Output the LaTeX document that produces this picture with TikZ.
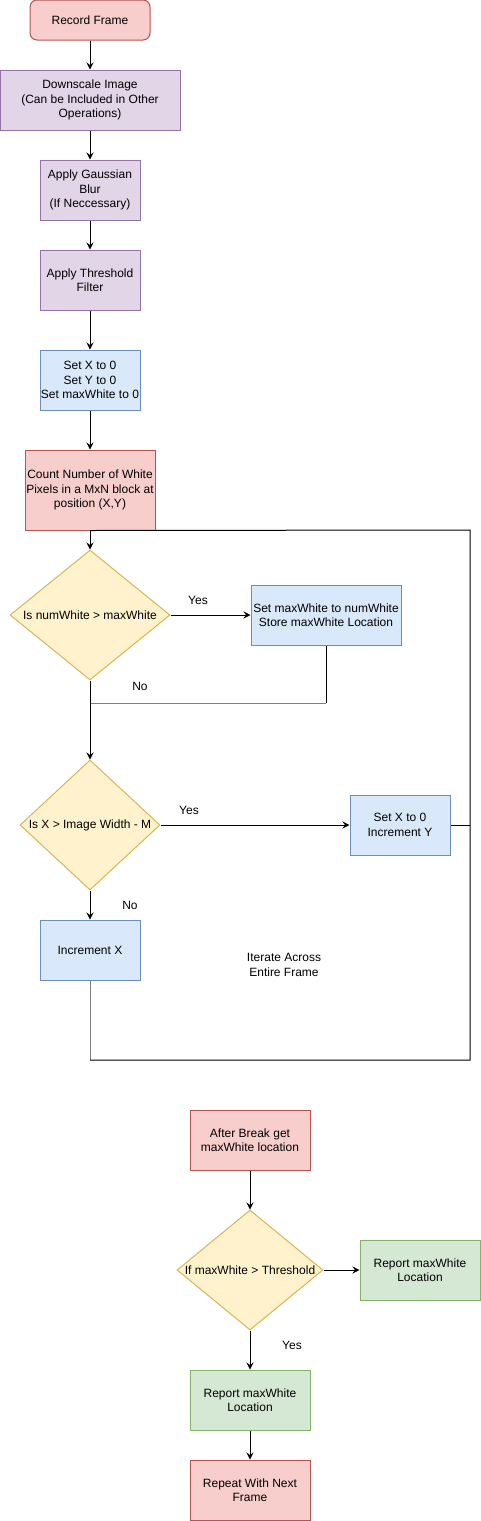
\documentclass[tikz,border=0pt]{standalone}
\usepackage{fontspec}
\setmainfont{Liberation Sans}
\usetikzlibrary{shapes.geometric,arrows.meta}
\definecolor{redF}{HTML}{F8CECC}\definecolor{redD}{HTML}{B85450}
\definecolor{purF}{HTML}{E1D5E7}\definecolor{purD}{HTML}{9673A6}
\definecolor{bluF}{HTML}{DAE8FC}\definecolor{bluD}{HTML}{6C8EBF}
\definecolor{yelF}{HTML}{FFF2CC}\definecolor{yelD}{HTML}{D6B656}
\definecolor{grnF}{HTML}{D5E8D4}\definecolor{grnD}{HTML}{82B366}
\definecolor{lineG}{HTML}{808080}
\begin{document}
\begin{tikzpicture}[x=1pt,y=-1pt,
  font=\fontsize{12}{14.5}\selectfont,
  box/.style={rectangle,draw,line width=1pt,inner sep=0pt,align=center},
  redbox/.style={box,fill=redF,draw=redD},
  purbox/.style={box,fill=purF,draw=purD},
  blubox/.style={box,fill=bluF,draw=bluD},
  grnbox/.style={box,fill=grnF,draw=grnD},
  dia/.style={diamond,draw=yelD,fill=yelF,line width=1pt,inner sep=0pt},
  conn/.style={line width=1pt,black},
  arr/.style={conn,-{Stealth[length=7pt,width=7pt,inset=2.5pt]}},
  lbl/.style={inner sep=0pt,align=center}
]
\useasboundingbox (0,0) rectangle (481,1521);

\node[redbox,rounded corners=7pt,minimum width=120,minimum height=40] (rec) at (90,20) {Record Frame};
\node[purbox,minimum width=180,minimum height=60] (down) at (90,100) {Downscale Image\\(Can be Included in Other\\Operations)};
\node[purbox,minimum width=100,minimum height=60] (gauss) at (90,190) {Apply Gaussian\\Blur\\(If Neccessary)};
\node[purbox,minimum width=100,minimum height=60] (thr) at (90,280) {Apply Threshold\\Filter};
\node[blubox,minimum width=100,minimum height=60] (init) at (90,380) {Set X to 0\\Set Y to 0\\Set maxWhite to 0};
\node[redbox,minimum width=130,minimum height=80] (count) at (90,490) {Count Number of White\\Pixels in a MxN block at\\position (X,Y)};

\node[dia,minimum width=160,minimum height=130] (d1) at (90,615) {};
\node[lbl] (d1t) at (d1.center) {Is numWhite > maxWhite};
\node[blubox,minimum width=150,minimum height=60] (setmax) at (326,615) {Set maxWhite to numWhite\\Store maxWhite Location};

\node[dia,minimum width=140,minimum height=130] (d2) at (90,825) {};
\node[lbl] (d2t) at (d2.center) {Is X > Image Width - M};
\node[blubox,minimum width=100,minimum height=60] (incy) at (400,825) {Set X to 0\\Increment Y};
\node[blubox,minimum width=100,minimum height=60] (incx) at (90,950) {Increment X};

\node[lbl] (iter) at (284,965) {Iterate Across\\Entire Frame};

\node[redbox,minimum width=120,minimum height=60] (after) at (250,1140) {After Break get\\maxWhite location};
\node[dia,minimum width=146,minimum height=120] (d3) at (250,1270) {};
\node[lbl] (d3t) at (d3.center) {If maxWhite > Threshold};
\node[grnbox,minimum width=120,minimum height=60] (rep1) at (420,1270) {Report maxWhite\\Location};
\node[grnbox,minimum width=120,minimum height=60] (rep2) at (250,1400) {Report maxWhite\\Location};
\node[redbox,minimum width=120,minimum height=60] (again) at (250,1490) {Repeat With Next\\Frame};

% labels
\node[lbl] (y1) at (198,600) {Yes};
\node[lbl] (n1) at (140,686) {No};
\node[lbl] (y2) at (189,810) {Yes};
\node[lbl] (n2) at (130,905) {No};
\node[lbl] (y3) at (292,1345) {Yes};

% coordinates
\coordinate (loopTR) at (470,530);
\coordinate (loopBR) at (470,1060);
\coordinate (loopBL) at (90,1060);
\coordinate (merge) at (90,703);
\coordinate (smc) at (326,703);
\coordinate (incyR) at (470,825);

% connectors
\draw[arr] (rec) -- (down);
\draw[arr] (down) -- (gauss);
\draw[arr] (gauss) -- (thr);
\draw[arr] (thr) -- (init);
\draw[arr] (init) -- (count);
\draw[arr] (count.south) -- (d1.north);
\draw[arr] (d1.east) -- (setmax.west);
\draw[conn] (setmax.south) -- (smc);
\draw[conn,lineG] (smc) -- (merge);
\draw[arr] (d1.south) -- (d2.north);
\draw[arr] (d2.east) -- (incy.west);
\draw[arr] (d2.south) -- (incx.north);
\draw[conn] (incy.east) -- (incyR);
\draw[conn,lineG] (incx.south) -- (loopBL);
\draw[conn] (loopBL) -- (loopBR) -- (loopTR) -- (count.south);

\draw[arr] (after) -- (d3.north);
\draw[arr] (d3.east) -- (rep1.west);
\draw[arr] (d3.south) -- (rep2.north);
\draw[arr] (rep2) -- (again);
\end{tikzpicture}
\end{document}
